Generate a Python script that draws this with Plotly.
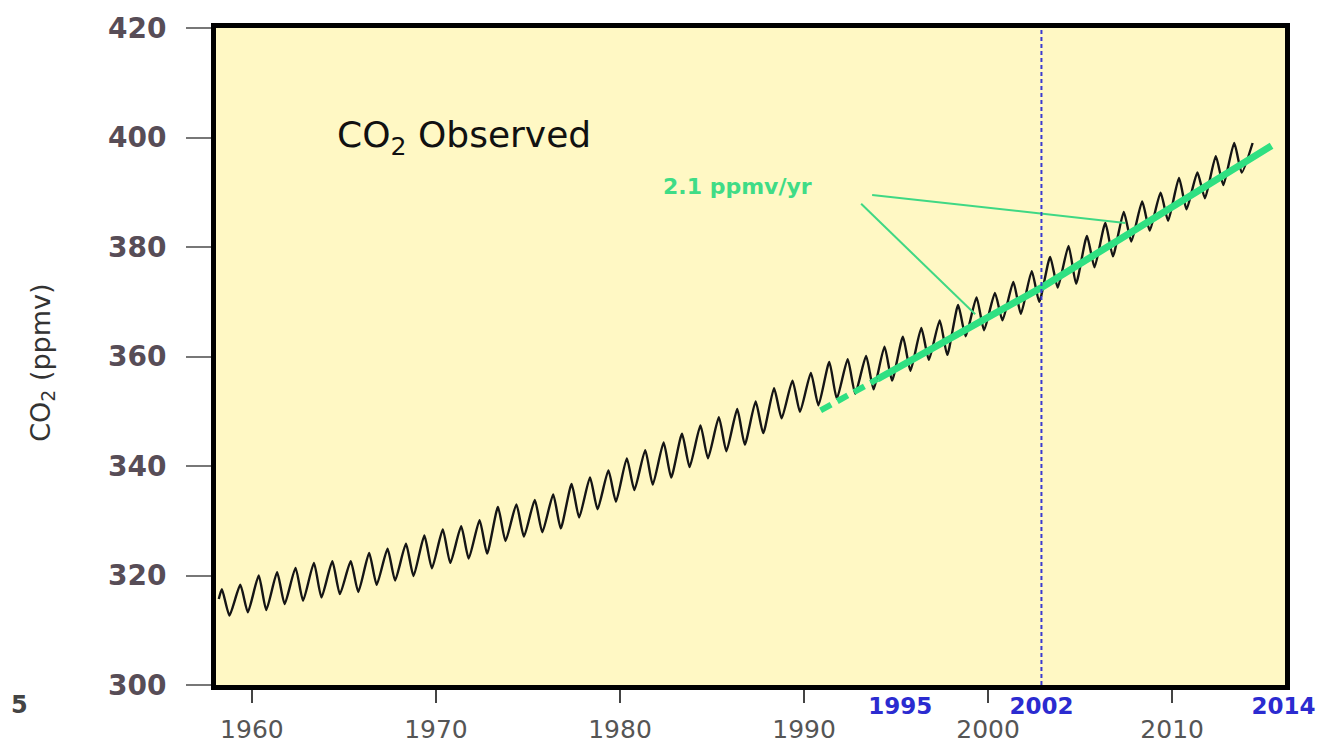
import numpy as np
import plotly.graph_objects as go

# ---------------- data ----------------
years = list(range(1958, 2014))
# seasonal maximum (around May) and minimum (around Sep/Oct), ppmv
peaks = [317.5, 318.3, 320.0, 320.6, 321.4, 322.3, 322.6, 322.6, 324.1, 324.9,
         325.8, 327.3, 328.4, 329.0, 330.1, 332.5, 333.0, 333.8, 334.8, 336.7,
         337.9, 339.2, 341.4, 342.9, 344.3, 345.9, 347.4, 348.9, 350.4, 351.8,
         354.2, 355.6, 357.0, 359.0, 359.5, 360.1, 361.8, 363.6, 365.2, 366.6,
         369.4, 370.8, 371.6, 373.6, 375.6, 378.2, 380.2, 382.0, 384.4, 386.4,
         388.3, 389.9, 392.6, 393.6, 396.6, 399.0]
troughs = [312.7, 313.3, 313.7, 314.8, 315.4, 316.0, 316.6, 317.0, 318.3, 319.1,
           319.9, 321.3, 322.3, 323.1, 324.0, 326.3, 327.1, 327.9, 328.6, 330.6,
           332.1, 333.5, 335.6, 336.6, 337.9, 339.8, 341.4, 342.7, 343.9, 346.0,
           348.7, 349.9, 351.1, 352.3, 353.2, 354.0, 355.6, 357.4, 359.4, 360.3,
           363.7, 364.8, 366.6, 367.8, 370.0, 372.6, 373.3, 376.3, 378.3, 381.0,
           383.0, 384.8, 386.9, 388.9, 391.3, 393.6]
first_obs = (1958.2, 315.7)     # March 1958
last_obs = (2014.37, 399.0)     # last plotted value, 2014
peak_phase, trough_phase = 0.37, 0.78   # fraction of year of max / min

# green trend (2.1 ppmv/yr)
trend_dash_year = [1990.9, 1994.0]
trend_dash_ppm = [350.15, 355.9]
trend_year = [1994.0, 2002.95, 2015.4]
trend_ppm = [355.9, 372.7, 398.5]

# leader lines of the "2.1 ppmv/yr" label
leader_from = [(1993.1, 387.9), (1993.7, 389.5)]
leader_to = [(1999.3, 367.7), (2007.45, 384.4)]

x_ticks = [1960, 1970, 1980, 1990, 2000, 2010]
y_ticks = [300, 320, 340, 360, 380, 400, 420]
blue_ticks = [1995, 2002, 2014]
marker_year = 2002

# ---------------- build the curve ----------------
cx = [first_obs[0]]
cy = [first_obs[1]]
for yr, p, t in zip(years, peaks, troughs):
    cx += [yr + peak_phase, yr + trough_phase]
    cy += [p, t]
cx.append(last_obs[0])
cy.append(last_obs[1])

fig = go.Figure()
fig.add_trace(go.Scatter(x=cx, y=cy, mode="lines",
                         line=dict(color="#151515", width=2.4, shape="spline", smoothing=0.55),
                         hoverinfo="skip", showlegend=False))
fig.add_trace(go.Scatter(x=trend_dash_year, y=trend_dash_ppm, mode="lines",
                         line=dict(color="#2fe082", width=6, dash="12px,7px"),
                         hoverinfo="skip", showlegend=False))
fig.add_trace(go.Scatter(x=trend_year, y=trend_ppm, mode="lines",
                         line=dict(color="#2fe082", width=7),
                         hoverinfo="skip", showlegend=False))
# invisible trace to activate the blue secondary axis
fig.add_trace(go.Scatter(x=[blue_ticks[0]], y=[y_ticks[0]], xaxis="x2", mode="markers",
                         marker=dict(opacity=0), hoverinfo="skip", showlegend=False))

for (x0, y0), (x1, y1) in zip(leader_from, leader_to):
    fig.add_shape(type="line", xref="x", yref="y", x0=x0, y0=y0, x1=x1, y1=y1,
                  line=dict(color="#3fd884", width=2))

fig.add_shape(type="line", xref="x2", yref="paper", x0=marker_year, x1=marker_year,
              y0=0, y1=1, line=dict(color="#3a3ad0", width=2, dash="4px,3px"))

fig.add_annotation(x=1964.5, y=400, xref="x", yref="y", xanchor="left", yanchor="middle",
                   text="CO<sub>2</sub> Observed", showarrow=False,
                   font=dict(family="DejaVu Sans", size=36, color="#111111"))
fig.add_annotation(x=1982.2, y=391, xref="x", yref="y", xanchor="left", yanchor="middle",
                   text="2.1 ppmv/yr", showarrow=False,
                   font=dict(family="DejaVu Sans", size=22, color="#3fdc86", weight="bold"))
fig.add_annotation(x=-0.163, y=0.49, xref="paper", yref="paper", textangle=-90,
                   xanchor="center", yanchor="middle",
                   text="CO<sub>2</sub> (ppmv)", showarrow=False,
                   font=dict(family="DejaVu Sans", size=27, color="#333333"))
fig.add_annotation(x=-0.1936, y=-0.03, xref="paper", yref="paper", xanchor="left",
                   yanchor="middle", text="5", showarrow=False,
                   font=dict(family="DejaVu Sans", size=24, color="#444444", weight="bold"))

fig.update_layout(
    width=1327, height=744,
    margin=dict(l=208, r=50, t=20, b=67, autoexpand=False),
    plot_bgcolor="#FFF8C4", paper_bgcolor="white",
    xaxis=dict(range=[1958.05, 2016.13], tickvals=x_ticks, ticks="outside", ticklen=13,
               tickwidth=2, tickcolor="#444444", showline=True, linewidth=5,
               linecolor="black", mirror=True, showgrid=False, zeroline=False,
               ticklabelstandoff=5, automargin=False,
               tickfont=dict(family="DejaVu Sans", size=25, color="#555555")),
    xaxis2=dict(range=[1961.06, 2014.08], overlaying="x", side="bottom", anchor="y",
                tickvals=blue_ticks, ticks="", showline=False, showgrid=False,
                zeroline=False, ticklabelstandoff=5, automargin=False,
                tickfont=dict(family="DejaVu Sans", size=23, color="#2b2bd0", weight="bold")),
    yaxis=dict(range=[300, 420], tickvals=y_ticks, ticks="outside", ticklen=25,
               tickwidth=2, tickcolor="#777777", showline=True, linewidth=5,
               linecolor="black", mirror=True, showgrid=False, zeroline=False,
               ticklabelstandoff=14, automargin=False,
               tickfont=dict(family="DejaVu Sans", size=28, color="#574d57", weight="bold")),
)

fig.write_html("out.html")
